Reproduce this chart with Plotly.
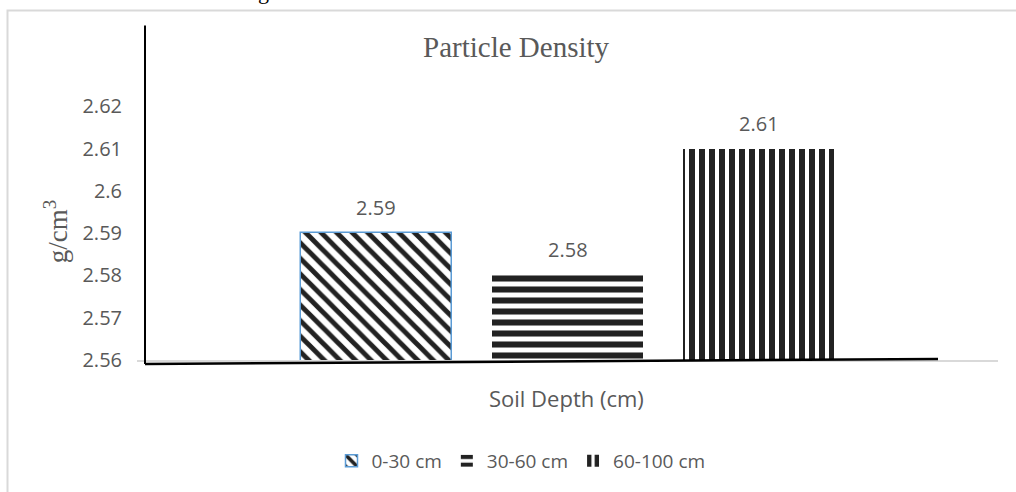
import plotly.graph_objects as go

# ---- data ----
series_names = ["0-30 cm", "30-60 cm", "60-100 cm"]
values = [2.59, 2.58, 2.61]
bar_positions = [0, 1, 2]
pattern_shapes = ["\\", "-", "|"]
y_ticks = [2.56, 2.57, 2.58, 2.59, 2.60, 2.61, 2.62]
y_tick_labels = ["2.56", "2.57", "2.58", "2.59", "2.6", "2.61", "2.62"]
chart_title = "Particle Density"
x_title = "Soil Depth (cm)"
y_title = "g/cm<sup>3</sup>"

# ---- geometry (pixels) ----
W, H = 1016, 492
L, R, T, B = 137, 998, 64, 363
pw, ph = R - L, B - T


def px(x):
    return (x - L) / pw


def py(y):
    return (B - y) / ph


SANS = "Open Sans, Liberation Sans, sans-serif"
SERIF = "Liberation Serif, Times New Roman, serif"
GREY = "#595959"
INK = "#222222"

pattern_sizes = [11, 11, 10]
pattern_solidity = [0.45, 0.55, 0.6]
outline_colors = ["#5B9BD5", "rgba(0,0,0,0)", "rgba(0,0,0,0)"]
outline_widths = [1.5, 0, 0]

fig = go.Figure()
for i, name in enumerate(series_names):
    fig.add_trace(go.Bar(
        x=[bar_positions[i]],
        y=[values[i]],
        name=name,
        width=0.79,
        marker=dict(
            color="white",
            line=dict(color=outline_colors[i], width=outline_widths[i]),
            pattern=dict(shape=pattern_shapes[i], fgcolor=INK, bgcolor="white",
                         size=pattern_sizes[i], solidity=pattern_solidity[i],
                         fillmode="replace", fgopacity=1),
        ),
        hoverinfo="skip",
    ))

annotations = []
for xi, v in zip(bar_positions, values):
    annotations.append(dict(
        x=xi, y=v, xref="x", yref="y", text=f"{v:.2f}", showarrow=False,
        yanchor="bottom", yshift=10, font=dict(family=SANS, size=20, color=GREY),
    ))

annotations += [
    dict(x=px(516), y=py(47), xref="paper", yref="paper", text=chart_title,
         showarrow=False, xanchor="center", yanchor="middle",
         font=dict(family=SERIF, size=29, color=GREY)),
    dict(x=px(566), y=py(401), xref="paper", yref="paper", text=x_title,
         showarrow=False, xanchor="center", yanchor="middle",
         font=dict(family=SANS, size=22, color=GREY)),
    dict(x=px(56), y=py(234), xref="paper", yref="paper", text=y_title,
         showarrow=False, xanchor="center", yanchor="middle", textangle=-90,
         font=dict(family=SERIF, size=27, color=GREY)),
    dict(x=px(263), y=py(-9), xref="paper", yref="paper", text="g",
         showarrow=False, xanchor="center", yanchor="middle",
         font=dict(family=SERIF, size=22, color="#000000")),
]

shapes = [
    dict(type="rect", xref="paper", yref="paper",
         x0=px(7.5), x1=px(1040), y0=py(520), y1=py(10),
         line=dict(color="#D9D9D9", width=2), fillcolor="rgba(0,0,0,0)", layer="below"),
    dict(type="line", xref="paper", yref="paper",
         x0=px(145), x1=px(145), y0=py(367), y1=py(25),
         line=dict(color="black", width=2)),
    dict(type="line", xref="paper", yref="paper",
         x0=px(145), x1=px(938), y0=py(367), y1=py(362),
         line=dict(color="black", width=2.5)),
]

fig.update_layout(
    width=W, height=H,
    margin=dict(l=L, r=W - R, t=T, b=H - B, pad=0),
    paper_bgcolor="white", plot_bgcolor="white",
    showlegend=True,
    legend=dict(orientation="h", x=px(521), y=py(465), xanchor="center", yanchor="middle",
                font=dict(family=SANS, size=19, color=GREY), itemwidth=30,
                traceorder="normal", bgcolor="rgba(0,0,0,0)"),
    xaxis=dict(range=[-1.25, 3.25], showticklabels=False, showgrid=False, zeroline=False,
               showline=True, linecolor="#D9D9D9", linewidth=2, ticks="", fixedrange=True),
    yaxis=dict(range=[2.56, 2.63], tickvals=y_ticks, ticktext=y_tick_labels,
               showgrid=False, zeroline=False, showline=False, ticks="",
               ticklabelstandoff=14,
               tickfont=dict(family=SANS, size=20, color=GREY)),
    annotations=annotations,
    shapes=shapes,
    bargap=0,
)

fig.write_html("out.html")
